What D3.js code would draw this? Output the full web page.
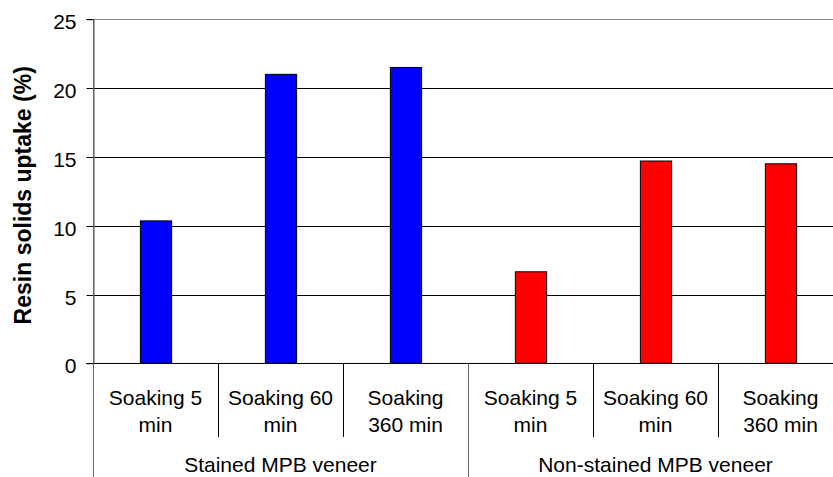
<!DOCTYPE html>
<html><head><meta charset="utf-8">
<script src="https://cdn.jsdelivr.net/npm/d3@7"></script>
<style>html,body{margin:0;padding:0;background:#fff;overflow:hidden}svg{display:block}</style>
</head><body><svg id="c" width="833" height="477"></svg>
<script>
const groups = ["Stained MPB veneer", "Non-stained MPB veneer"];
const treatments = ["Soaking 5 min", "Soaking 60 min", "Soaking 360 min"];
const treatmentLines = [["Soaking 5", "min"], ["Soaking 60", "min"], ["Soaking", "360 min"]];
const stainedValues = [10.35, 21.0, 21.5];
const nonStainedValues = [6.65, 14.7, 14.5];
const groupColors = ["#0000FF", "#FF0000"];
const yTicks = [0, 5, 10, 15, 20, 25];
const yTitle = "Resin solids uptake (%)";

const rows = [];
[stainedValues, nonStainedValues].forEach((vals, gi) => {
  vals.forEach((v, ti) => rows.push({ key: gi + "-" + ti, g: gi, t: ti, value: v }));
});

const svg = d3.select("#c");
const L = 93, R = 843, T = 19.3, B = 363.3;
const font = "'Liberation Sans', Arial, sans-serif";

const x = d3.scaleBand().domain(rows.map(d => d.key)).range([L, R]).padding(0);
const y = d3.scaleLinear().domain([0, 25]).range([B, T]);
const gx = d3.scaleBand().domain(groups).range([L, R]).padding(0);

// gridlines
svg.append("g").selectAll("line").data(yTicks).join("line")
  .attr("x1", L).attr("x2", R)
  .attr("y1", d => Math.round(y(d)) + 0.5).attr("y2", d => Math.round(y(d)) + 0.5)
  .attr("stroke", d => d === 25 ? "#888" : "#000").attr("stroke-width", 1);

// y axis
const yAxis = d3.axisLeft(y).tickValues(yTicks).tickSize(7).tickPadding(10).tickFormat(d3.format("d"));
const ya = svg.append("g").attr("transform", `translate(${L + 0.5},0)`).call(yAxis);
ya.select(".domain").attr("stroke", "#555");
ya.selectAll(".tick line").attr("stroke", "#000");
ya.selectAll(".tick").attr("transform", d => `translate(0,${Math.round(y(d)) + 0.5})`);
ya.selectAll(".tick text").attr("font-family", font).attr("font-size", 21).attr("fill", "#000")
  .attr("dy", null).attr("y", 9.5);

// bars
svg.append("g").selectAll("rect").data(rows).join("rect")
  .attr("x", d => x(d.key) + x.bandwidth() * 0.375 + 0.5)
  .attr("width", x.bandwidth() * 0.25)
  .attr("y", d => y(d.value))
  .attr("height", d => y(0) - y(d.value))
  .attr("fill", d => groupColors[d.g])
  .attr("stroke", "#000").attr("stroke-width", 1);

// baseline axis
svg.append("line").attr("x1", L - 7).attr("x2", R).attr("y1", Math.round(B) + 0.5).attr("y2", Math.round(B) + 0.5)
  .attr("stroke", "#000");

// category dividers
svg.append("g").selectAll("line").data(rows.filter(d => d.t > 0)).join("line")
  .attr("x1", d => Math.round(x(d.key)) + 0.5).attr("x2", d => Math.round(x(d.key)) + 0.5)
  .attr("y1", B).attr("y2", 437).attr("stroke", "#000");
// group dividers
svg.append("g").selectAll("line").data(groups).join("line")
  .attr("x1", d => Math.round(gx(d)) + 0.5).attr("x2", d => Math.round(gx(d)) + 0.5)
  .attr("y1", (d, i) => i === 0 ? T : B).attr("y2", 477).attr("stroke", "#666");

// category labels
const cl = svg.append("g").selectAll("text").data(rows).join("text")
  .attr("font-family", font).attr("font-size", 21).attr("text-anchor", "middle").attr("fill", "#000");
cl.each(function (d) {
  const t = d3.select(this);
  treatmentLines[d.t].forEach((line, i) => {
    t.append("tspan").attr("x", x(d.key) + x.bandwidth() / 2).attr("y", 405 + i * 27).text(line);
  });
});

// group labels
svg.append("g").selectAll("text").data(groups).join("text")
  .attr("x", d => gx(d) + gx.bandwidth() / 2).attr("y", 472)
  .attr("font-family", font).attr("font-size", 21).attr("text-anchor", "middle").attr("fill", "#000")
  .text(d => d);

// y title
svg.append("text").attr("transform", `translate(31,${(T + B) / 2 + 4}) rotate(-90)`)
  .attr("font-family", font).attr("font-size", 23).attr("font-weight", "bold").attr("text-anchor", "middle")
  .attr("fill", "#000").text(yTitle);
</script></body></html>
